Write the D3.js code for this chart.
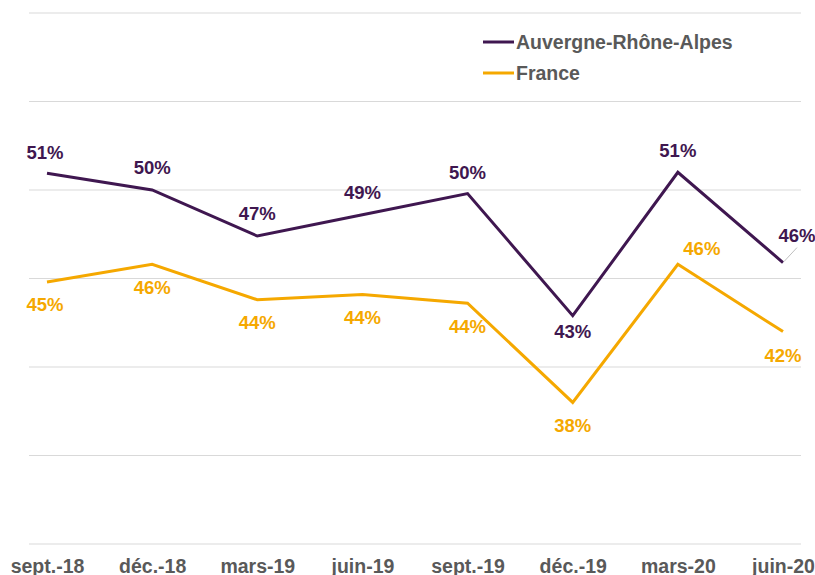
<!DOCTYPE html>
<html>
<head>
<meta charset="utf-8">
<script src="https://cdn.jsdelivr.net/npm/d3@7"></script>
<style>
  body { margin: 0; background: #fff; }
  svg { display: block; font-family: "Liberation Sans", Arial, sans-serif; }
</style>
</head>
<body>
<svg width="815" height="575"></svg>
<script>
const periods = ["sept.-18", "déc.-18", "mars-19", "juin-19", "sept.-19", "déc.-19", "mars-20", "juin-20"];
const aura = [50.95, 50.0, 47.4, 48.6, 49.8, 42.9, 51.0, 45.9];
const france = [44.8, 45.8, 43.8, 44.1, 43.6, 38.0, 45.8, 42.0];
const gridTicks = [30, 35, 40, 45, 50, 55, 60];

const purple = "#3f1750";
const orange = "#f5a800";
const grey = "#595959";

const svg = d3.select("svg");

const x = d3.scalePoint().domain(periods).range([47, 783]);
const y = d3.scaleLinear().domain([30, 60]).range([544, 13]);

// gridlines
svg.append("g")
  .selectAll("line")
  .data(gridTicks)
  .enter()
  .append("line")
  .attr("x1", 29)
  .attr("x2", 801)
  .attr("y1", (d) => y(d))
  .attr("y2", (d) => y(d))
  .attr("stroke", "#d9d9d9")
  .attr("stroke-width", 1);

// x labels
const xAxis = d3.axisBottom(x).tickSize(0).tickPadding(0);
const gx = svg.append("g").attr("transform", "translate(0, 559)").call(xAxis);
gx.select(".domain").remove();
gx.selectAll("text")
  .attr("dy", "0.71em")
  .attr("font-size", 19.5)
  .attr("font-weight", "bold")
  .attr("fill", grey)
  .style("font-family", "Liberation Sans, Arial, sans-serif");

const line = d3.line()
  .x((d, i) => x(periods[i]))
  .y((d) => y(d));

svg.append("path")
  .datum(france)
  .attr("d", line)
  .attr("fill", "none")
  .attr("stroke", orange)
  .attr("stroke-width", 3)
  .attr("stroke-linejoin", "miter");

svg.append("path")
  .datum(aura)
  .attr("d", line)
  .attr("fill", "none")
  .attr("stroke", purple)
  .attr("stroke-width", 3)
  .attr("stroke-linejoin", "miter");

// label placement: [dx, dy] relative to the point
const auraOffsets = [[-2, -14], [0, -16], [0, -16], [0, -16], [0, -15], [0, 22], [0, -15], [14, -21]];
const franceOffsets = [[-2, 29], [0, 30], [0, 29], [0, 30], [0, 30], [0, 30], [24, -9], [0, 30]];

function labels(values, offsets, color) {
  svg.append("g")
    .selectAll("text")
    .data(values)
    .enter()
    .append("text")
    .attr("x", (d, i) => x(periods[i]) + offsets[i][0])
    .attr("y", (d, i) => y(d) + offsets[i][1])
    .attr("text-anchor", "middle")
    .attr("font-size", 18.5)
    .attr("font-weight", "bold")
    .attr("fill", color)
    .text((d) => Math.round(d) + "%");
}
labels(aura, auraOffsets, purple);
labels(france, franceOffsets, orange);

// leader line for last AURA label
svg.append("line")
  .attr("x1", x(periods[7]) + 1)
  .attr("y1", y(aura[7]) - 1)
  .attr("x2", x(periods[7]) + 14)
  .attr("y2", y(aura[7]) - 15)
  .attr("stroke", "#bfbfbf")
  .attr("stroke-width", 1);

// legend
const legend = [
  { name: "Auvergne-Rhône-Alpes", color: purple },
  { name: "France", color: orange },
];
const lg = svg.append("g").attr("transform", "translate(483, 42)");
legend.forEach((d, i) => {
  lg.append("line")
    .attr("x1", 0)
    .attr("x2", 31)
    .attr("y1", i * 31)
    .attr("y2", i * 31)
    .attr("stroke", d.color)
    .attr("stroke-width", 3);
  lg.append("text")
    .attr("x", 33)
    .attr("y", i * 31 + 7)
    .attr("font-size", 19.5)
    .attr("font-weight", "bold")
    .attr("fill", grey)
    .text(d.name);
});
</script>
</body>
</html>
